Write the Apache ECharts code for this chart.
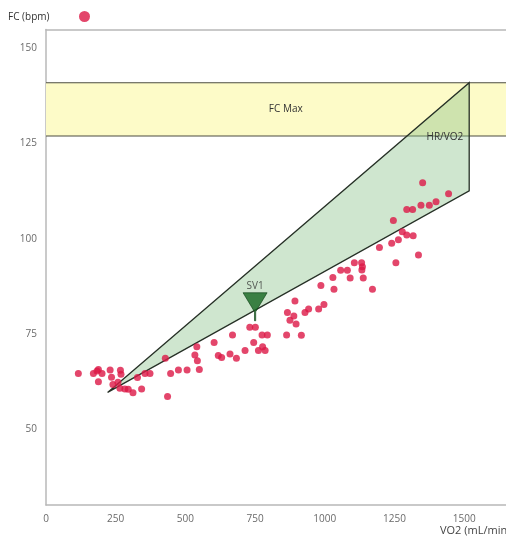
<!DOCTYPE html>
<html>
<head>
<meta charset="utf-8">
<script src="https://cdn.jsdelivr.net/npm/echarts@6/dist/echarts.min.js"></script>
<style>
  html, body { margin: 0; padding: 0; background: #fff; }
  #chart { width: 506px; height: 536px; }
</style>
</head>
<body>
<div id="chart"></div>
<script>
// Heart rate vs oxygen uptake during an incremental test
const vo2 = [
  116, 170, 183, 188, 201, 230, 267, 269, 188, 235,
  240, 258, 265, 283, 295, 312, 343, 328, 355, 373,
  436, 447, 475, 506, 550, 428, 541, 534, 543, 603,
  618, 630, 660, 683, 669, 714, 745, 731, 751, 775,
  794, 762, 777, 786, 863, 916, 866, 875, 889, 897,
  893, 929, 942, 978, 997, 986, 1029, 1033, 1057, 1081,
  1091, 1106, 1132, 1135, 1133, 1138, 1171, 1196, 1240, 1264,
  1255, 1246, 1278, 1294, 1317, 1336, 1351, 1444, 1294, 1315,
  1345, 1375, 1399
];
const fc = [
  64.6, 64.6, 65.2, 65.6, 64.6, 65.5, 65.4, 64.4, 62.4, 63.6,
  61.7, 62.3, 60.7, 60.5, 60.4, 59.5, 60.5, 63.5, 64.6, 64.6,
  58.5, 64.6, 65.5, 65.5, 65.6, 68.6, 71.6, 69.4, 67.9, 72.7,
  69.3, 68.8, 69.7, 68.6, 74.7, 70.6, 72.7, 76.7, 76.7, 74.7,
  74.7, 70.6, 71.6, 70.6, 74.7, 74.6, 80.6, 78.6, 79.7, 77.6,
  83.6, 80.6, 81.5, 81.5, 82.7, 87.7, 89.8, 86.7, 91.7, 91.7,
  89.7, 93.7, 93.7, 92.6, 91.8, 89.7, 86.7, 97.7, 98.8, 99.7,
  93.7, 104.8, 101.8, 101.0, 100.8, 95.7, 114.7, 111.8, 107.7, 107.7,
  108.8, 108.8, 109.7
];

// Maximal heart-rate band (bpm)
const fcMaxBand = [127, 141];

// HR/VO2 expected zone: polygon vertices
const zoneVo2 = [221, 1518, 1518];
const zoneFc = [59.6, 141, 112.6];

// First ventilatory threshold
const sv1 = [750, 80.8];

const xTicks = [0, 250, 500, 750, 1000, 1250, 1500];
const yTicks = [50, 75, 100, 125, 150];

const X_MIN = 0, X_MAX = 1650, Y_MIN = 30, Y_MAX = 155;
const FONT = '"Open Sans", "Noto Sans", sans-serif';
const FRAME = { show: true, lineStyle: { color: '#b8b8b8', width: 1.5 } };

const chart = echarts.init(document.getElementById('chart'), null, { renderer: 'canvas' });

const points = vo2.map((v, i) => [v, fc[i]]);

chart.setOption({
  animation: false,
  backgroundColor: '#ffffff',
  title: [
    { text: 'FC (bpm)', left: 3, top: 7, textStyle: { fontFamily: FONT, fontSize: 10, fontWeight: 'normal', color: '#333' } }
  ],
  legend: {
    left: 74, top: 6, itemWidth: 11, itemHeight: 11, icon: 'circle',
    formatter: () => '',
    data: ['FC']
  },
  grid: { left: 46, right: 0, top: 29.5, bottom: 31 },
  xAxis: [
    {
      type: 'value', min: X_MIN, max: X_MAX, position: 'bottom',
      axisLine: FRAME, axisTick: { show: false }, splitLine: { show: false },
      axisLabel: { customValues: xTicks, formatter: (v) => String(v),
                   fontFamily: FONT, fontSize: 10, color: '#6a6a6a', margin: 9 }
    },
    {
      // top frame line only
      type: 'value', min: X_MIN, max: X_MAX, position: 'top',
      axisLine: FRAME, axisTick: { show: false }, splitLine: { show: false }, axisLabel: { show: false }
    }
  ],
  yAxis: {
    type: 'value', min: Y_MIN, max: Y_MAX,
    axisLine: FRAME, axisTick: { show: false }, splitLine: { show: false },
    axisLabel: { customValues: yTicks, formatter: (v) => String(v),
                 fontFamily: FONT, fontSize: 10, color: '#6a6a6a', margin: 9 }
  },
  graphic: [
    { type: 'text', left: 440, top: 525, style: { text: 'VO2 (mL/min)', font: '11px ' + FONT, fill: '#444' } }
  ],
  series: [
    {
      // FC Max band
      type: 'custom', name: 'FC Max', silent: true, z: 1,
      data: [[X_MIN, fcMaxBand[0]]],
      renderItem: (params, api) => {
        const tl = api.coord([X_MIN, fcMaxBand[1]]);
        const br = api.coord([X_MAX, fcMaxBand[0]]);
        const midY = (tl[1] + br[1]) / 2;
        const midX = api.coord([860, fcMaxBand[0]])[0];
        return {
          type: 'group',
          children: [
            { type: 'rect', shape: { x: tl[0], y: tl[1], width: br[0] - tl[0], height: br[1] - tl[1] },
              style: { fill: '#fdfbc8' } },
            { type: 'line', shape: { x1: tl[0], y1: tl[1], x2: br[0], y2: tl[1] }, style: { stroke: '#4d4d40', lineWidth: 1.2 } },
            { type: 'line', shape: { x1: tl[0], y1: br[1], x2: br[0], y2: br[1] }, style: { stroke: '#4d4d40', lineWidth: 1.2 } },
            { type: 'text', x: midX, y: midY,
              style: { text: 'FC Max', font: '10px ' + FONT, fill: '#333', align: 'center', verticalAlign: 'middle' } }
          ]
        };
      }
    },
    {
      // HR/VO2 zone
      type: 'custom', name: 'HR/VO2', silent: true, z: 2,
      data: zoneVo2.map((v, i) => [v, zoneFc[i]]),
      renderItem: (params, api) => {
        if (params.dataIndex !== 0) return;
        const pts = zoneVo2.map((v, i) => api.coord([v, zoneFc[i]]));
        const bandBottom = api.coord([X_MIN, fcMaxBand[0]])[1];
        return {
          type: 'group',
          children: [
            { type: 'polygon', shape: { points: pts },
              style: { fill: 'rgba(136,192,136,0.4)', stroke: '#263026', lineWidth: 1.3 } },
            { type: 'text', x: pts[1][0] - 6, y: bandBottom + 1.5,
              style: { text: 'HR/VO2', font: '10px ' + FONT, fill: '#333', align: 'right', verticalAlign: 'middle' } }
          ]
        };
      }
    },
    {
      type: 'scatter', name: 'FC', z: 3,
      symbol: 'circle', symbolSize: 7,
      itemStyle: { color: '#dc1846' },
      data: points
    },
    {
      type: 'scatter', name: 'SV1', z: 4,
      symbol: 'path://M0,0 L24,0 L12.6,19 L12.6,28 L11.4,28 L11.4,19 Z',
      symbolSize: [24, 28], symbolOffset: [0, -5],
      itemStyle: { color: '#14661f', borderColor: '#0b3f12', borderWidth: 0.8 },
      label: { show: true, position: 'top', distance: 1, formatter: 'SV1',
               fontFamily: FONT, fontSize: 10, color: '#333' },
      data: [sv1]
    }
  ]
});
</script>
</body>
</html>
